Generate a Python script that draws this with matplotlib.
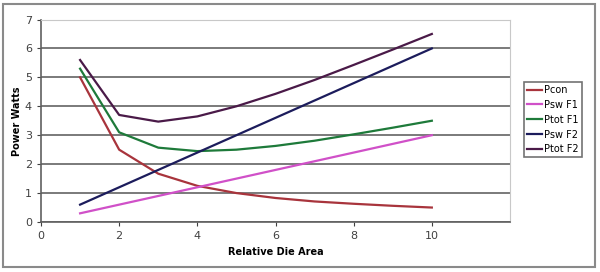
import matplotlib.pyplot as plt
from matplotlib.patches import Rectangle

x = [1, 2, 3, 4, 5, 6, 7, 8, 9, 10]
pcon = [5.0, 2.5, 1.67, 1.25, 1.0, 0.83, 0.71, 0.63, 0.56, 0.5]
psw_f1 = [0.3, 0.6, 0.9, 1.2, 1.5, 1.8, 2.1, 2.4, 2.7, 3.0]
ptot_f1 = [5.3, 3.1, 2.57, 2.45, 2.5, 2.63, 2.81, 3.03, 3.26, 3.5]
psw_f2 = [0.6, 1.2, 1.8, 2.4, 3.0, 3.6, 4.2, 4.8, 5.4, 6.0]
ptot_f2 = [5.6, 3.7, 3.47, 3.65, 4.0, 4.43, 4.91, 5.43, 5.96, 6.5]

labels = ["Pcon", "Psw F1", "Ptot F1", "Psw F2", "Ptot F2"]
series = [pcon, psw_f1, ptot_f1, psw_f2, ptot_f2]
colors = ["#a8343c", "#d050c8", "#1e7a3a", "#1c1c5c", "#4a1a48"]

fig = plt.figure(figsize=(6, 2.72), dpi=100)
fig.patch.set_facecolor("white")
# outer chart frame
fig.patches.append(Rectangle((3 / 600, 5 / 272), 592 / 600, 263 / 272,
                             transform=fig.transFigure, fill=False,
                             edgecolor="#8a8a8a", linewidth=1.5))

ax = fig.add_axes([41 / 600, 50 / 272, 469 / 600, 202.5 / 272])
for y, lab, c in zip(series, labels, colors):
    ax.plot(x, y, color=c, linewidth=1.6, label=lab)

ax.set_xlim(0, 12)
ax.set_ylim(0, 7)
ax.set_xticks([0, 2, 4, 6, 8, 10])
ax.set_yticks(range(8))
ax.yaxis.grid(True, color="#707070", linewidth=1.3)
ax.set_axisbelow(True)
for s in ["top", "right"]:
    ax.spines[s].set_color("#c8c8c8")
for s in ["left", "bottom"]:
    ax.spines[s].set_color("#606060")
    ax.spines[s].set_linewidth(1.2)
ax.tick_params(labelsize=8, colors="#404040", length=3, direction="out")
ax.set_xlabel("Relative Die Area", fontsize=7, fontweight="bold", labelpad=4)
ax.set_ylabel("Power Watts", fontsize=7, fontweight="bold", labelpad=2)

leg = ax.legend(loc="upper left", bbox_to_anchor=(524 / 600, 190 / 272),
                bbox_transform=fig.transFigure, fontsize=7, frameon=True,
                fancybox=False, edgecolor="#505050", handlelength=1.5,
                handletextpad=0.3, labelspacing=0.5, borderpad=0.3,
                borderaxespad=0)
leg.get_frame().set_linewidth(1.2)

fig.savefig("out.png", dpi=100)
